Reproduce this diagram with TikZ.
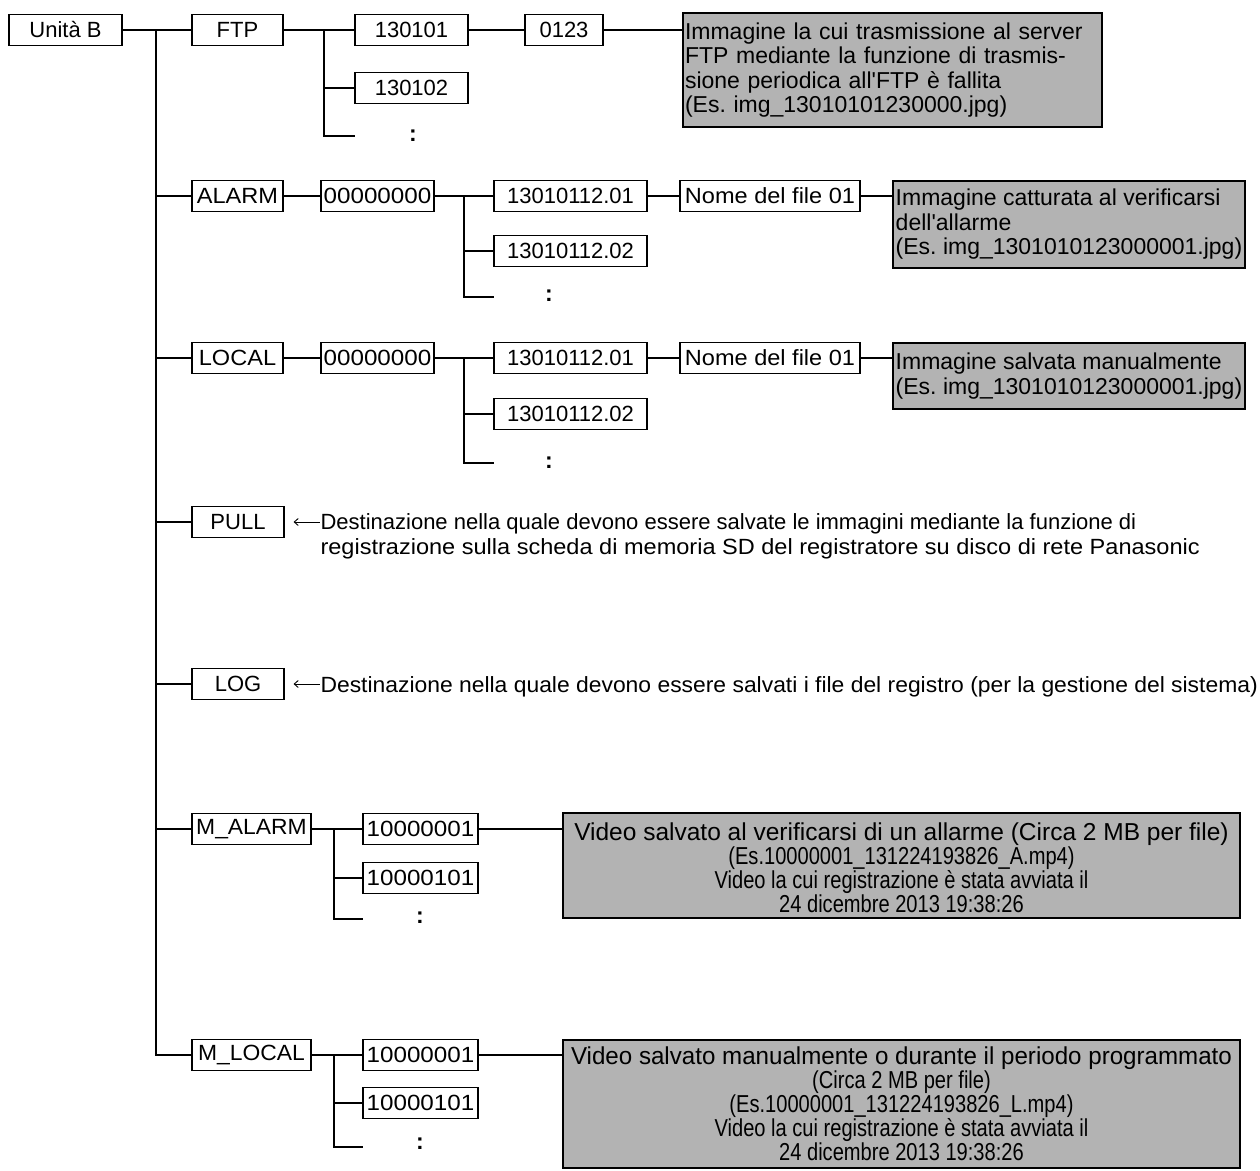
\documentclass[tikz,border=0pt]{standalone}
\usepackage{fontspec}
\setmainfont{Liberation Sans}
\newfontfamily\narrowfont[FakeStretch=0.82]{Liberation Sans}
\newfontfamily\wideB[FakeStretch=0.985]{Liberation Sans}
\newfontfamily\wlab[FakeStretch=1.1]{Liberation Sans}
\newfontfamily\wpull[FakeStretch=1.07]{Liberation Sans}
\newfontfamily\wlogtxt[FakeStretch=1.04]{Liberation Sans}
\usetikzlibrary{arrows.meta}
\definecolor{boxgray}{RGB}{179,179,179}
\begin{document}
\begin{tikzpicture}[x=1pt,y=-1pt,line width=1.1pt,
  lab/.style={draw, fill=white, minimum height=31pt, inner sep=0pt, font=\fontsize{22}{24}\selectfont},
  gbox/.style={draw, fill=boxgray, inner sep=0pt, font=\fontsize{23}{24.5}\selectfont},
  mbox/.style={draw, fill=boxgray, inner sep=0pt},
  mtext/.style={inner sep=0pt, align=center, font=\narrowfont\fontsize{24.5}{24}\selectfont},
  dots/.style={inner sep=0pt, font=\bfseries\fontsize{23}{24}\selectfont},
  note/.style={inner sep=0pt, align=left, font=\fontsize{22}{25}\selectfont},
  pointer/.style={line width=0.9pt, {Straight Barb[length=4pt,width=7pt]}-}]
\useasboundingbox (0,0) rectangle (1260,1170);

% level 0 and 1
\node[lab, minimum width=113] (unit) at (65.5,30) {Unità B};
\node[lab, minimum width=91] (ftp) at (237.5,30) {FTP};
\node[lab, minimum width=91, font=\wpull\fontsize{22}{24}\selectfont] (alarm) at (237.5,196) {ALARM};
\node[lab, minimum width=91, font=\wpull\fontsize{22}{24}\selectfont] (local) at (237.5,358) {LOCAL};
\node[lab, minimum width=92] (pull) at (238,522) {PULL};
\node[lab, minimum width=92] (log) at (238,684) {LOG};
\node[lab, minimum width=119, font=\wlogtxt\fontsize{22}{24}\selectfont] (malarm) at (251.5,829) {M\_ALARM};
\node[lab, minimum width=119, font=\wlogtxt\fontsize{22}{24}\selectfont] (mlocal) at (251.5,1055) {M\_LOCAL};

\coordinate (tj) at (156,30);
\draw (unit.east) -- (ftp.west);
\draw (tj) |- (mlocal.west);
\foreach \n in {alarm,local,pull,log,malarm} \draw (tj |- \n.west) -- (\n.west);

% FTP
\node[lab, minimum width=113] (f1) at (411.5,30) {130101};
\node[lab, minimum width=113] (f2) at (411.5,88) {130102};
\node[dots] (fd) at (413,136) {:};
\node[lab, minimum width=78] (f3) at (564,30) {0123};
\node[gbox, minimum width=419, minimum height=114, text width=415, align=left] (gftp) at (892.5,70) {Immagine la cui trasmissione al server\\FTP mediante la funzione di trasmis-\\sione periodica all\textquotesingle FTP è fallita\\(Es.\ img\_13010101230000.jpg)};
\coordinate (fj) at (324,30);
\coordinate (fe) at (355,136);
\draw (ftp.east) -- (f1.west);
\draw (fj) |- (f2.west);
\draw (fj) |- (fe);
\draw (f1.east) -- (f3.west);
\draw (f3.east) -- (f3.east -| gftp.west);

% ALARM
\node[lab, minimum width=113, font=\wlab\fontsize{22}{24}\selectfont] (a0) at (377.5,196) {00000000};
\node[lab, minimum width=153] (a1) at (570.5,196) {13010112.01};
\node[lab, minimum width=153] (a2) at (570.5,251) {13010112.02};
\node[dots] (ad) at (549,296) {:};
\node[lab, minimum width=180, font=\wpull\fontsize{22}{24}\selectfont] (an) at (770,196) {Nome del file 01};
\node[gbox, minimum width=352, minimum height=87, align=left] (ga) at (1069,224.5) {Immagine catturata al verificarsi\\dell\textquotesingle allarme\\(Es.\ img\_1301010123000001.jpg)};
\coordinate (aj) at (464,196);
\coordinate (ae) at (494,297);
\draw (alarm.east) -- (a0.west);
\draw (a0.east) -- (a1.west);
\draw (aj) |- (a2.west);
\draw (aj) |- (ae);
\draw (a1.east) -- (an.west);
\draw (an.east) -- (an.east -| ga.west);

% LOCAL
\node[lab, minimum width=113, font=\wlab\fontsize{22}{24}\selectfont] (l0) at (377.5,358) {00000000};
\node[lab, minimum width=153] (l1) at (570.5,358) {13010112.01};
\node[lab, minimum width=153] (l2) at (570.5,414) {13010112.02};
\node[dots] (ld) at (549,463) {:};
\node[lab, minimum width=180, font=\wpull\fontsize{22}{24}\selectfont] (ln) at (770,358) {Nome del file 01};
\node[gbox, minimum width=352, minimum height=66, align=left] (gl) at (1069,376) {Immagine salvata manualmente\\(Es.\ img\_1301010123000001.jpg)};
\coordinate (lj) at (464,358);
\coordinate (le) at (494,463);
\draw (local.east) -- (l0.west);
\draw (l0.east) -- (l1.west);
\draw (lj) |- (l2.west);
\draw (lj) |- (le);
\draw (l1.east) -- (ln.west);
\draw (ln.east) -- (ln.east -| gl.west);

% PULL and LOG
\node[note, anchor=north west] (pt) at (320,513) {Destinazione nella quale devono essere salvate le immagini mediante la funzione di\\{\wpull registrazione sulla scheda di memoria SD del registratore su disco di rete Panasonic}};
\node[note, anchor=base west, font=\wlogtxt\fontsize{22}{25}\selectfont] (lt) at (320,692) {Destinazione nella quale devono essere salvati i file del registro (per la gestione del sistema)};
\draw[pointer] ([xshift=9pt]pull.east) -- (pt.north west |- pull.east);
\draw[pointer] ([xshift=9pt]log.east) -- (lt.base west |- log.east);

% M_ALARM
\node[lab, minimum width=115, font=\wlab\fontsize{22}{24}\selectfont] (ma1) at (420.5,829) {10000001};
\node[lab, minimum width=115, font=\wlab\fontsize{22}{24}\selectfont] (ma2) at (420.5,878) {10000101};
\node[dots] (mad) at (420,918) {:};
\node[mbox, minimum width=677, minimum height=105] (gma) at (901.5,865.5) {};
\node[mtext] (gmat) at ([yshift=-2pt]gma.center) {{\rmfamily Video salvato al verificarsi di un allarme (Circa 2 MB per file)}\\(Es.10000001\_131224193826\_A.mp4)\\Video la cui registrazione è stata avviata il\\24 dicembre 2013 19:38:26};
\coordinate (maj) at (334,829);
\coordinate (mae) at (363,919);
\draw (malarm.east) -- (ma1.west);
\draw (maj) |- (ma2.west);
\draw (maj) |- (mae);
\draw (ma1.east) -- (ma1.east -| gma.west);

% M_LOCAL
\node[lab, minimum width=115, font=\wlab\fontsize{22}{24}\selectfont] (ml1) at (420.5,1055) {10000001};
\node[lab, minimum width=115, font=\wlab\fontsize{22}{24}\selectfont] (ml2) at (420.5,1103) {10000101};
\node[dots] (mld) at (420,1144) {:};
\node[mbox, minimum width=677, minimum height=128] (gml) at (901.5,1104) {};
\node[mtext] (gmlt) at (gml.center) {{\wideB Video salvato manualmente o durante il periodo programmato}\\(Circa 2 MB per file)\\(Es.10000001\_131224193826\_L.mp4)\\Video la cui registrazione è stata avviata il\\24 dicembre 2013 19:38:26};
\coordinate (mlj) at (334,1055);
\coordinate (mle) at (363,1147);
\draw (mlocal.east) -- (ml1.west);
\draw (mlj) |- (ml2.west);
\draw (mlj) |- (mle);
\draw (ml1.east) -- (ml1.east -| gml.west);
\end{tikzpicture}
\end{document}
